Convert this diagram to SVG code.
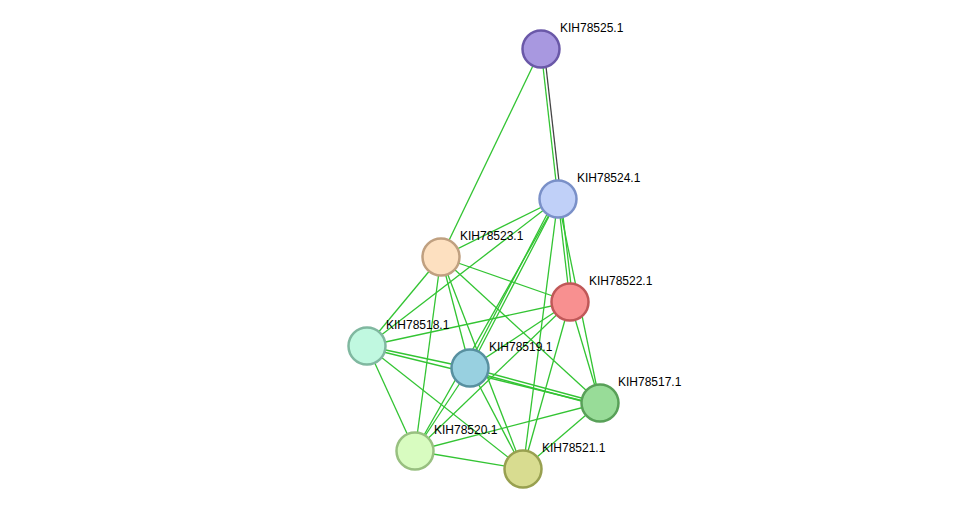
<svg xmlns="http://www.w3.org/2000/svg" width="975" height="515" viewBox="0 0 975 515">
<style>
.e{stroke:#33c433;stroke-width:1.3;fill:none}
.n{stroke-width:2.5}
text{font-family:"Liberation Sans",Arial,sans-serif;font-size:12px;fill:#000}
</style>
<rect width="975" height="515" fill="#fff"/>
<g id="edges">
<line class="e" x1="541" y1="49" x2="558" y2="199"/>
<line x1="544" y1="49" x2="561" y2="199" stroke="#444" stroke-width="1.3"/>
<line class="e" x1="541" y1="49" x2="441" y2="257"/>
<line class="e" x1="558" y1="199" x2="441" y2="257"/>
<line class="e" x1="558" y1="199" x2="570" y2="302"/>
<line class="e" x1="561" y1="199" x2="573" y2="302"/>
<line class="e" x1="558" y1="199" x2="367" y2="346"/>
<line class="e" x1="558" y1="199" x2="470" y2="368"/>
<line class="e" x1="555" y1="199" x2="467" y2="368"/>
<line class="e" x1="558" y1="199" x2="600" y2="403"/>
<line class="e" x1="558" y1="199" x2="415" y2="451"/>
<line class="e" x1="558" y1="199" x2="523" y2="469"/>
<line class="e" x1="441" y1="257" x2="570" y2="302"/>
<line class="e" x1="441" y1="257" x2="367" y2="346"/>
<line class="e" x1="441" y1="257" x2="470" y2="368"/>
<line class="e" x1="441" y1="257" x2="600" y2="403"/>
<line class="e" x1="441" y1="257" x2="415" y2="451"/>
<line class="e" x1="441" y1="257" x2="523" y2="469"/>
<line class="e" x1="570" y1="302" x2="367" y2="346"/>
<line class="e" x1="570" y1="302" x2="470" y2="368"/>
<line class="e" x1="570" y1="302" x2="600" y2="403"/>
<line class="e" x1="570" y1="302" x2="415" y2="451"/>
<line class="e" x1="570" y1="302" x2="523" y2="469"/>
<line class="e" x1="367" y1="346" x2="470" y2="368"/>
<line class="e" x1="367" y1="348" x2="600" y2="405"/>
<line class="e" x1="367" y1="346" x2="415" y2="451"/>
<line class="e" x1="367" y1="346" x2="523" y2="469"/>
<line class="e" x1="470" y1="368" x2="600" y2="403"/>
<line class="e" x1="470" y1="371" x2="600" y2="406"/>
<line class="e" x1="470" y1="368" x2="415" y2="451"/>
<line class="e" x1="470" y1="368" x2="523" y2="469"/>
<line class="e" x1="600" y1="403" x2="415" y2="451"/>
<line class="e" x1="600" y1="403" x2="523" y2="469"/>
<line class="e" x1="415" y1="451" x2="523" y2="469"/>
</g>
<g id="KIH78525.1"><circle class="n" cx="541" cy="49" r="18.5" fill="#a898e0" stroke="#6a58a8"/><text x="560" y="32">KIH78525.1</text></g>
<g id="KIH78524.1"><circle class="n" cx="558" cy="199" r="18.5" fill="#c0d0f8" stroke="#7a90c8"/><text x="577" y="182">KIH78524.1</text></g>
<g id="KIH78523.1"><circle class="n" cx="441" cy="257" r="18.5" fill="#fde0c0" stroke="#c0a080"/><text x="460" y="240">KIH78523.1</text></g>
<g id="KIH78522.1"><circle class="n" cx="570" cy="302" r="18.5" fill="#f89090" stroke="#c05858"/><text x="589" y="285">KIH78522.1</text></g>
<g id="KIH78518.1"><circle class="n" cx="367" cy="346" r="18.5" fill="#c0f8e0" stroke="#80b8a0"/><text x="386" y="329">KIH78518.1</text></g>
<g id="KIH78519.1"><circle class="n" cx="470" cy="368" r="18.5" fill="#98d0e0" stroke="#5890a0"/><text x="489" y="351">KIH78519.1</text></g>
<g id="KIH78517.1"><circle class="n" cx="600" cy="403" r="18.5" fill="#98dc98" stroke="#58a058"/><text x="618" y="386">KIH78517.1</text></g>
<g id="KIH78520.1"><circle class="n" cx="415" cy="451" r="18.5" fill="#d8fcc0" stroke="#98c080"/><text x="434" y="434">KIH78520.1</text></g>
<g id="KIH78521.1"><circle class="n" cx="523" cy="469" r="18.5" fill="#d8dc90" stroke="#98a050"/><text x="542" y="452">KIH78521.1</text></g>
</svg>
